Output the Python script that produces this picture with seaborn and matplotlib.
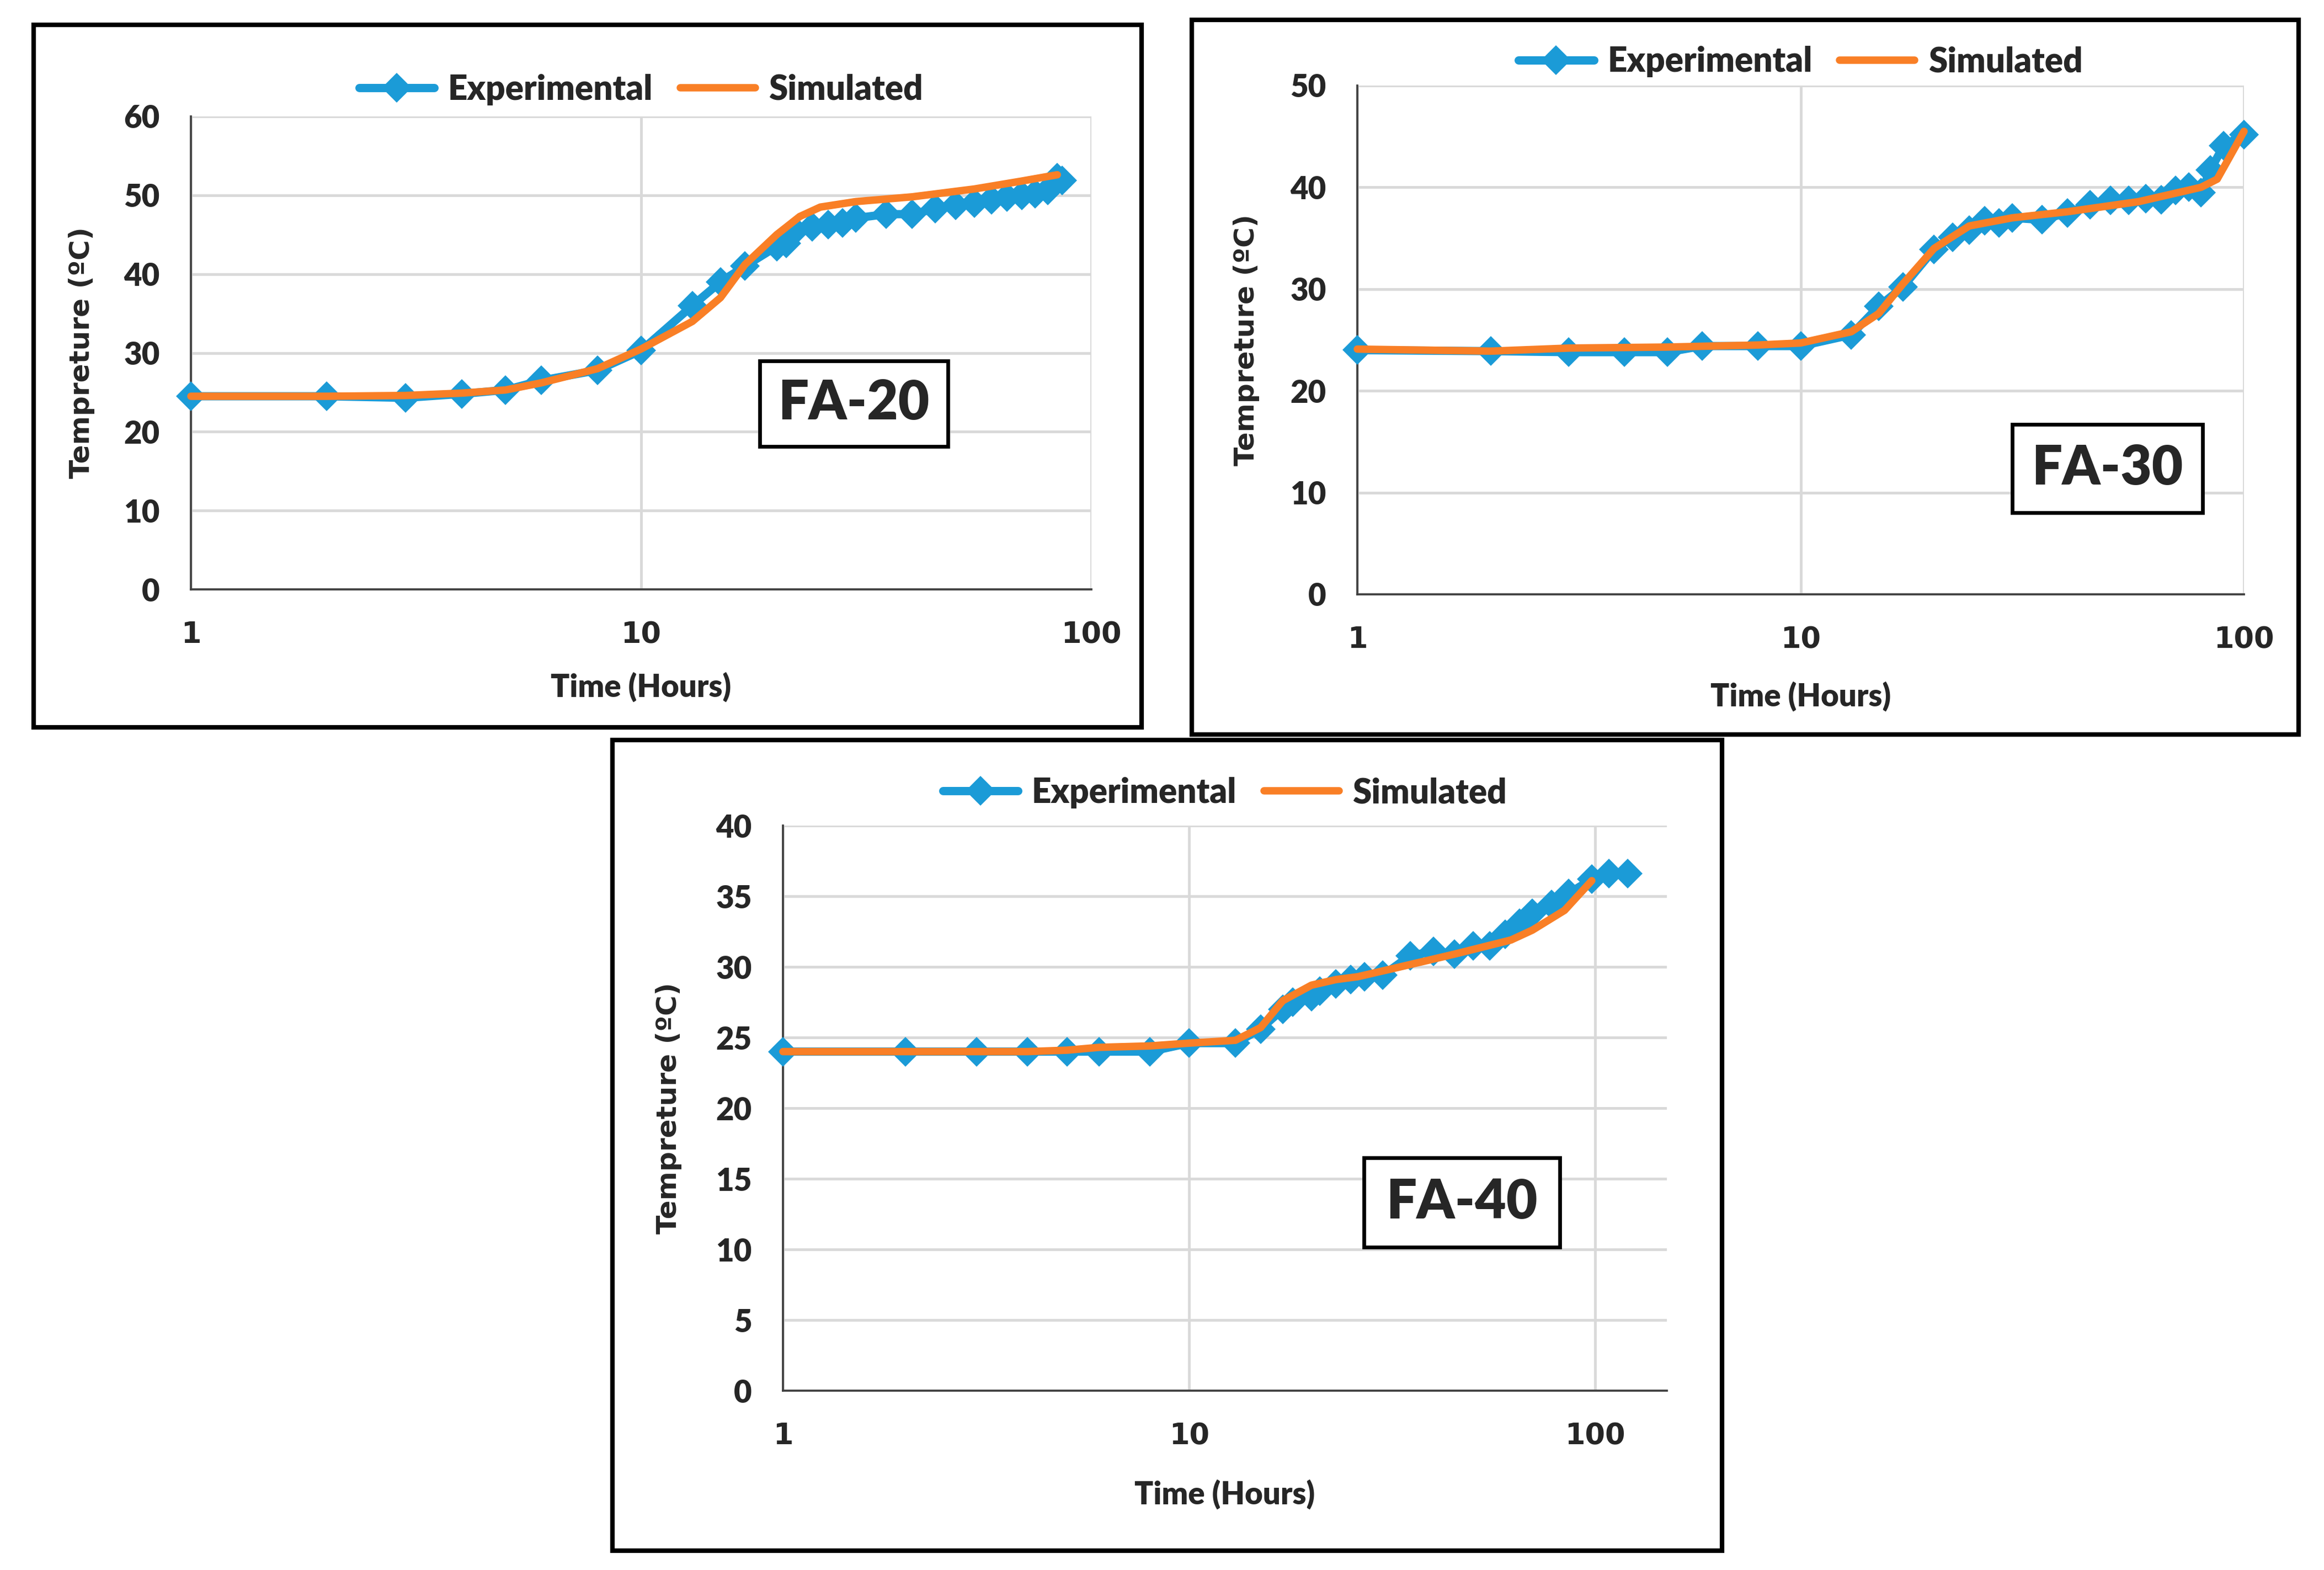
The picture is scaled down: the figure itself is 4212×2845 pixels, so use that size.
import pandas as pd
import matplotlib.pyplot as plt
import seaborn as sns
from matplotlib.patches import Rectangle
from matplotlib.ticker import NullLocator

# FA-20 (hours, degC)
fa20_exp_t = [1, 2, 3, 4, 5, 6, 8, 10, 13, 15, 17, 20, 21, 22, 24, 26, 28, 30,
              35, 40, 45, 50, 55, 60, 65, 70, 75, 80, 84, 86]
fa20_exp_temp = [24.5, 24.5, 24.3, 24.8, 25.3, 26.5, 27.8, 30.3, 36.0, 39.0, 41.0,
                 43.5, 43.9, 45.5, 46.0, 46.3, 46.5, 47.1, 47.6, 47.6, 48.3, 48.7,
                 49.0, 49.4, 49.8, 50.0, 50.2, 50.6, 52.2, 51.9]
fa20_sim_t = [1, 2, 3, 4, 5, 6, 8, 10, 13, 15, 17, 20, 22.5, 25, 30, 40, 55, 70, 84]
fa20_sim_temp = [24.5, 24.5, 24.6, 24.9, 25.3, 26.2, 28.0, 30.5, 34.0, 37.0, 41.2,
                 45.0, 47.3, 48.5, 49.2, 49.8, 50.8, 51.8, 52.6]

# FA-30
fa30_exp_t = [1, 2, 3, 4, 5, 6, 8, 10, 13, 15, 17, 20, 22, 24, 26, 28, 30, 35,
              40, 45, 50, 55, 60, 65, 70, 75, 80, 84, 90, 100]
fa30_exp_temp = [24.0, 23.9, 23.8, 23.8, 23.8, 24.4, 24.4, 24.4, 25.5, 28.3, 30.2,
                 33.9, 35.1, 35.8, 36.7, 36.5, 37.0, 36.8, 37.5, 38.3, 38.7, 38.7,
                 38.9, 38.8, 39.7, 40.0, 39.5, 41.7, 44.1, 45.2]
fa30_sim_t = [1, 2, 3, 5, 8, 10, 13, 15, 17, 20, 24, 30, 40, 58, 80, 87, 100]
fa30_sim_temp = [24.1, 23.9, 24.2, 24.3, 24.5, 24.7, 25.8, 27.6, 30.5, 34.0, 36.2,
                 37.0, 37.6, 38.6, 40.0, 40.8, 45.5]

# FA-40
fa40_exp_t = [1, 2, 3, 4, 5, 6, 8, 10, 13, 15, 17, 18, 20, 21, 23, 25, 27, 30,
              35, 40, 45, 50, 55, 60, 65, 70, 78, 86, 98, 108, 120]
fa40_exp_temp = [24.0, 24.0, 24.0, 24.0, 24.0, 24.0, 24.0, 24.6, 24.6, 25.6, 27.0,
                 27.5, 27.9, 28.3, 28.8, 29.1, 29.3, 29.4, 30.8, 31.1, 30.9, 31.5,
                 31.5, 32.3, 33.1, 33.8, 34.4, 35.2, 36.2, 36.6, 36.6]
fa40_sim_t = [1, 2, 3, 4, 5, 6, 8, 10, 13, 15, 17, 20, 23, 26, 32, 45, 62, 70, 84, 98]
fa40_sim_temp = [24.0, 24.0, 24.0, 24.0, 24.1, 24.3, 24.4, 24.6, 24.8, 25.7, 27.6,
                 28.7, 29.1, 29.3, 29.9, 30.9, 31.9, 32.6, 34.0, 36.1]

BLUE = '#1B9BD7'
ORANGE = '#F97F26'
W, H = 4212, 2845

sns.set_theme(style='white')
plt.rcParams['font.family'] = ['Lato', 'DejaVu Sans']

fig = plt.figure(figsize=(W / 270, H / 270), dpi=270)


def px_rect(x0, y0, x1, y1):
    return [x0 / W, 1 - y1 / H, (x1 - x0) / W, (y1 - y0) / H]


panels = [
    dict(name='FA-20', exp=(fa20_exp_t, fa20_exp_temp), sim=(fa20_sim_t, fa20_sim_temp),
         frame=(61, 45, 2069, 1318), axes=(346, 211, 1978, 1068), xmax=100,
         ymax=60, ystep=10, box=(0.736, 0.393, 0.209, 0.181),
         leg_y=1.057, xlab_y=-0.2065, ylab_x=-0.1213),
    dict(name='FA-30', exp=(fa30_exp_t, fa30_exp_temp), sim=(fa30_sim_t, fa30_sim_temp),
         frame=(2160, 36, 4166, 1331), axes=(2460, 155, 4067, 1077), xmax=100,
         ymax=50, ystep=10, box=(0.846, 0.247, 0.215, 0.174),
         leg_y=1.047, xlab_y=-0.2007, ylab_x=-0.125),
    dict(name='FA-40', exp=(fa40_exp_t, fa40_exp_temp), sim=(fa40_sim_t, fa40_sim_temp),
         frame=(1110, 1341, 3121, 2810), axes=(1419, 1496, 3021, 2520), xmax=150,
         ymax=40, ystep=5, box=(0.768, 0.333, 0.222, 0.159),
         leg_y=1.058, xlab_y=-0.1836, ylab_x=-0.129),
]

for p in panels:
    # outer frame of each sub-figure
    fx0, fy0, fx1, fy1 = p['frame']
    fig.add_artist(Rectangle((fx0 / W, 1 - fy1 / H), (fx1 - fx0) / W, (fy1 - fy0) / H,
                             transform=fig.transFigure, fill=False, ec='black', lw=2.2))

    ax = fig.add_axes(px_rect(*p['axes']))
    ax.set_xscale('log')

    df_exp = pd.DataFrame({'Time': p['exp'][0], 'Temp': p['exp'][1]})
    df_sim = pd.DataFrame({'Time': p['sim'][0], 'Temp': p['sim'][1]})
    sns.lineplot(data=df_exp, x='Time', y='Temp', ax=ax, color=BLUE, lw=4.0,
                 marker='D', markersize=8.5, markeredgecolor=BLUE, markeredgewidth=1.5,
                 label='Experimental', clip_on=False, zorder=3)
    sns.lineplot(data=df_sim, x='Time', y='Temp', ax=ax, color=ORANGE, lw=3.6,
                 solid_capstyle='round', label='Simulated', clip_on=False, zorder=4)

    ax.set_xlim(1, p['xmax'])
    ax.set_ylim(0, p['ymax'])
    ax.set_xticks([1, 10, 100])
    ax.set_xticklabels(['1', '10', '100'])
    ax.xaxis.set_minor_locator(NullLocator())
    ax.set_yticks(range(0, p['ymax'] + 1, p['ystep']))
    ax.tick_params(length=0, pad=15)
    for lab in ax.get_xticklabels():
        lab.set_fontfamily('DejaVu Sans')
        lab.set_fontweight('bold')
        lab.set_fontsize(14)
    for lab in ax.get_yticklabels():
        lab.set_fontweight('heavy')
        lab.set_fontsize(15)

    ax.grid(True, which='major', color='#D9D9D9', lw=1.3)
    ax.set_axisbelow(True)
    for s in ['top', 'right']:
        ax.spines[s].set_visible(False)
    for s in ['left', 'bottom']:
        ax.spines[s].set_color('#404040')
        ax.spines[s].set_linewidth(1.0)

    ax.set_xlabel('Time (Hours)', fontsize=15, fontweight='heavy', va='center')
    ax.xaxis.set_label_coords(0.5, p['xlab_y'])
    ax.set_ylabel('Tempreture (ºC)', fontsize=13.4, fontweight='bold',
                  family='DejaVu Sans', va='center')
    ax.yaxis.set_label_coords(p['ylab_x'], 0.5)

    ax.legend(loc='center', bbox_to_anchor=(0.5, p['leg_y']), ncol=2, frameon=False,
              prop={'weight': 'heavy', 'size': 16.5}, handlelength=2.2,
              handletextpad=0.4, columnspacing=0.8)

    bx, by, bw, bh = p['box']
    ax.add_patch(Rectangle((bx - bw / 2, by - bh / 2), bw, bh, transform=ax.transAxes,
                           fc='white', ec='black', lw=1.8, zorder=5))
    ax.text(bx, by, p['name'], transform=ax.transAxes, ha='center', va='center',
            fontsize=26, fontweight='heavy', zorder=6)

fig.savefig('out.png', dpi=270, facecolor='white')
